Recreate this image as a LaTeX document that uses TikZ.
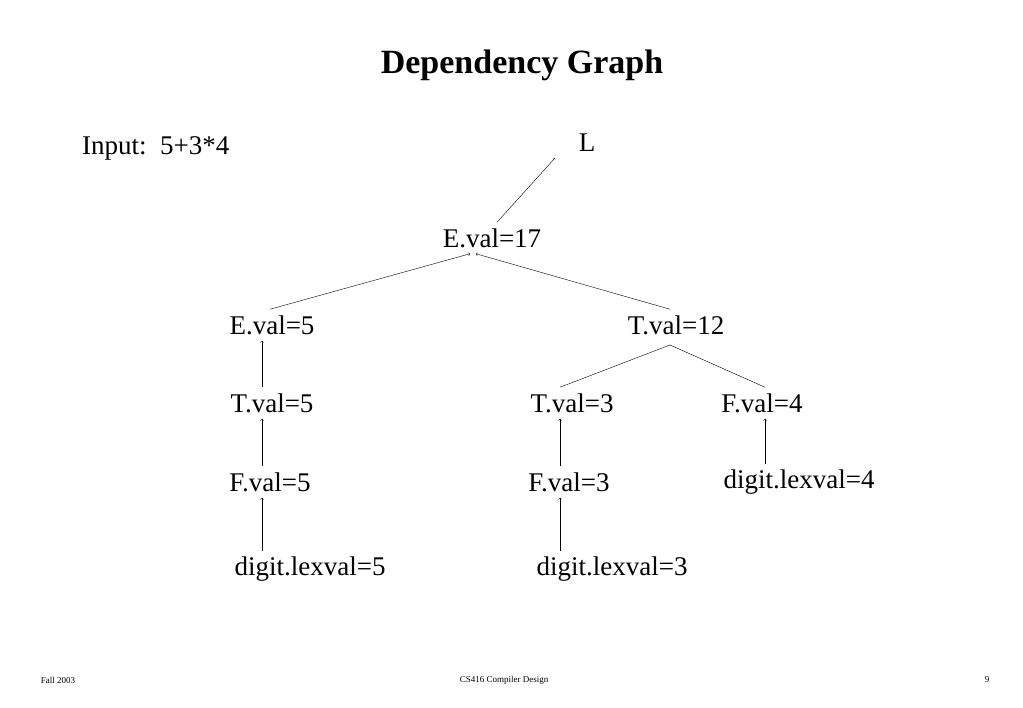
\documentclass[tikz,border=0pt]{standalone}
\usepackage{fontspec}
\setmainfont{Liberation Serif}
\usetikzlibrary{positioning}
\begin{document}
\begin{tikzpicture}[x=1pt, y=-1pt,
attrnode/.style={inner sep=6pt, font=\fontsize{27}{30}\selectfont},
footnode/.style={font=\fontsize{9}{10}\selectfont},
]
\useasboundingbox[fill=white] (0,0) rectangle (1023,708);
%Nodes
\node[font=\fontsize{34}{38}\selectfont\bfseries] (title) at (522,65) {Dependency Graph};
\node[attrnode, anchor=west] (input) at (76,148) {Input:\ \ 5+3*4};
\node[attrnode] (L)      at (587,143) {L};
\node[attrnode] (E17)    at (492,238) {E.val=17};
\node[attrnode] (E5)     at (272,325) {E.val=5};
\node[attrnode] (T12)    at (676,325) {T.val=12};
\node[attrnode] (T5)     at (272,403) {T.val=5};
\node[attrnode] (T3)     at (572,403) {T.val=3};
\node[attrnode] (F4)     at (762,403) {F.val=4};
\node[attrnode] (F5)     at (270,482) {F.val=5};
\node[attrnode] (F3)     at (569,482) {F.val=3};
\node[attrnode] (D4)     at (799,482) {digit.lexval=4};
\node[attrnode] (D5)     at (310,569) {digit.lexval=5};
\node[attrnode] (D3)     at (612,569) {digit.lexval=3};
\node[footnode] (fall)   at (58,680) {Fall 2003};
\node[footnode] (course) at (504,680) {CS416 Compiler Design};
\node[footnode] (page)   at (987,680) {9};
\coordinate (meet) at (670,345);

%Lines
\draw[->] ([xshift=5]E17.north) -- ([xshift=-32]L.south);
\draw[->] ([xshift=-2]E5.north) -- ([xshift=-22]E17.south);
\draw[->] ([xshift=-6]T12.north) -- ([xshift=-16]E17.south);
\draw[->] ([xshift=-10]T5.north) -- ([xshift=-10]E5.south);
\draw[->] ([xshift=-8]F5.north) -- ([xshift=-10]T5.south);
\draw[->] ([xshift=-48]D5.north) -- ([xshift=-8]F5.south);
\draw[->] ([xshift=-9]F3.north) -- ([xshift=-12]T3.south);
\draw[->] ([xshift=-52]D3.north) -- ([xshift=-9]F3.south);
\draw[->] ([xshift=-34]D4.north) -- ([xshift=3]F4.south);
\draw (meet) -- ([xshift=-12]T3.north);
\draw (meet) -- ([xshift=3]F4.north);
\end{tikzpicture}
\end{document}
